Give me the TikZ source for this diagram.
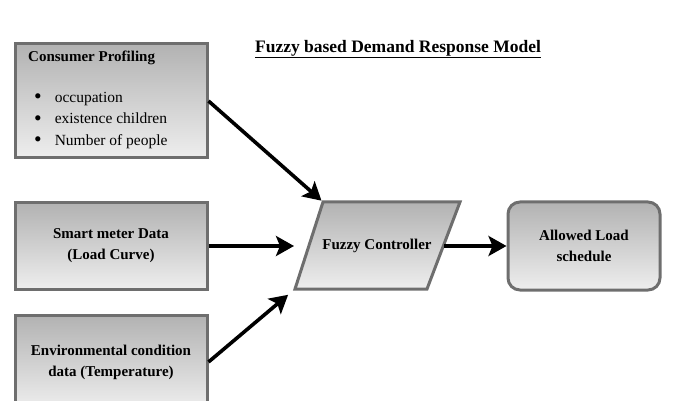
\documentclass[tikz,border=0pt]{standalone}
\usepackage{fontspec}
\setmainfont{Liberation Serif}
\usetikzlibrary{arrows.meta}

\definecolor{boxtop}{HTML}{B2B2B2}
\definecolor{boxbot}{HTML}{EEEEEE}
\definecolor{boxline}{HTML}{6E6E6E}

\newcommand{\dotitem}{\hspace*{6pt}\raisebox{-1.6pt}{\scalebox{1.4}{\textbullet}}\hspace{13pt}}

\tikzset{
    block/.style={draw=boxline, line width=3pt, top color=boxtop, bottom color=boxbot,
        minimum width=192pt, minimum height=86pt, align=center,
        font=\fontsize{15}{21}\selectfont\bfseries},
    flow/.style={line width=3.6pt, -{Stealth[length=18pt,width=20pt,inset=4pt]}}
}

\begin{document}
\begin{tikzpicture}[x=1pt,y=-1pt]
    \useasboundingbox (0,0) rectangle (678,401);
    \clip (0,0) rectangle (678,401);
    \node (title) at (398,49) {\fontsize{17.5}{20}\selectfont\bfseries\underline{Fuzzy based Demand Response Model}};

    \node[block, minimum height=114pt] (cp) at (111,101) {};
    \node[anchor=north west, align=left, inner sep=0pt, font=\fontsize{15.5}{21.5}\selectfont] (cptext) at (28,51)
        {\textbf{\fontsize{15}{21}\selectfont Consumer Profiling}\\[19pt]
         \dotitem occupation\\
         \dotitem existence children\\
         \dotitem Number of people};

    \node[block] (sm) at (111,246) {Smart meter Data\\(Load Curve)};
    \node[block, minimum height=94pt] (env) at (111,362) {Environmental condition\\data (Temperature)};

    % parallelogram
    \coordinate (fctl) at (323,202);
    \coordinate (fctr) at (460,202);
    \coordinate (fcbr) at (427,289);
    \coordinate (fcbl) at (295,289);
    \coordinate (fcw) at (309,246);
    \coordinate (fce) at (444,246);
    \draw[draw=boxline, line width=3pt, top color=boxtop, bottom color=boxbot, line join=miter]
        (fctl) -- (fctr) -- (fcbr) -- (fcbl) -- cycle;
    \node[font=\fontsize{15}{21}\selectfont\bfseries] (fc) at (377,246) {Fuzzy Controller};

    \node[block, rounded corners=12pt, minimum width=152pt, minimum height=88pt] (ls) at (584,246) {Allowed Load\\schedule};

    \draw[flow, shorten >=2pt] (cp.east) -- (fctl);
    \draw[flow, shorten >=15pt] (sm.east) -- (fcw);
    \draw[flow, shorten >=9pt] (env.east) -- (fcbl);
    \draw[flow] (fce) -- (ls.west);
\end{tikzpicture}
\end{document}
